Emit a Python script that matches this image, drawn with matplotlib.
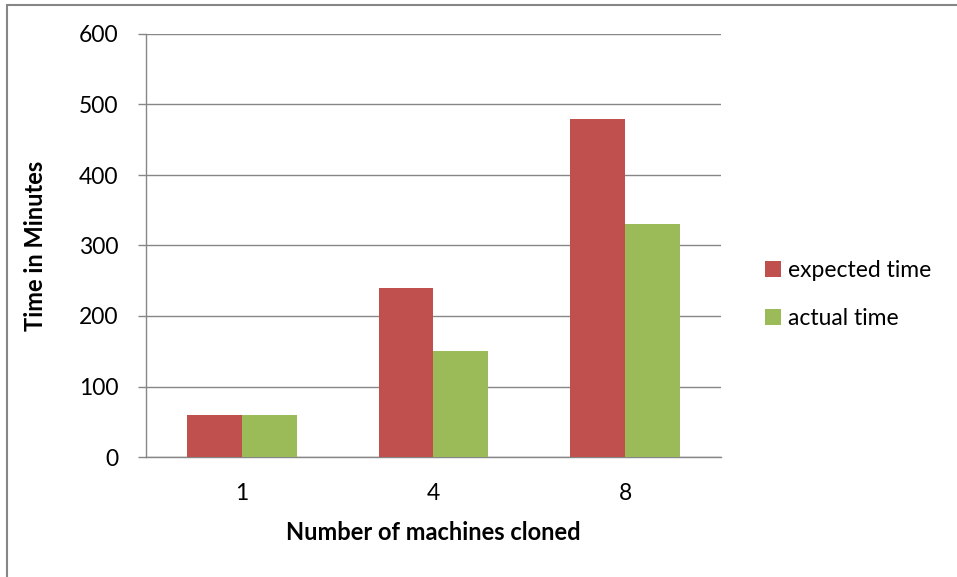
import matplotlib
matplotlib.use("Agg")
import matplotlib.pyplot as plt
import numpy as np
from matplotlib.patches import Rectangle

categories = ["1", "4", "8"]
expected_time = [60, 240, 480]
actual_time = [60, 150, 330]
yticks = [0, 100, 200, 300, 400, 500, 600]

plt.rcParams['font.family'] = ['Lato', 'DejaVu Sans']

W, H = 957, 577
fig = plt.figure(figsize=(W/100, H/100), dpi=100)
L, R, T, B = 146, 721, 34, 457
ax = fig.add_axes([L/W, 1 - B/H, (R-L)/W, (B-T)/H])

grey = '#868686'
x = np.arange(len(categories))
bw = 0.2857
ax.bar(x - bw/2, expected_time, bw, color='#C0504D', label='expected time', zorder=3)
ax.bar(x + bw/2, actual_time, bw, color='#9BBB59', label='actual time', zorder=3)

ax.set_xlim(-0.5, 2.5)
ax.set_ylim(0, 600)
ax.set_yticks(yticks)
ax.set_yticklabels([str(v) for v in yticks], fontsize=16.5)
ax.set_xticks(x)
ax.set_xticklabels(categories, fontsize=16.5)
ax.tick_params(axis='x', length=0, pad=19)
ax.tick_params(axis='y', length=6, width=1.0, color=grey, pad=14)
ax.yaxis.grid(True, color=grey, linewidth=1.0, zorder=0)
for s in ['top', 'right']:
    ax.spines[s].set_visible(False)
for s in ['left', 'bottom']:
    ax.spines[s].set_color(grey)
    ax.spines[s].set_linewidth(1.0)

ax.set_ylabel('Time in Minutes', fontsize=17, fontweight='bold', labelpad=23)
ax.set_xlabel('Number of machines cloned', fontsize=17, fontweight='bold', labelpad=12)

leg = fig.legend(loc='upper left', bbox_to_anchor=(744/W, 1 - 239/H), frameon=False,
                 fontsize=16.5, handlelength=0.7, handleheight=0.7, handletextpad=0.3,
                 labelspacing=1.18)

fig.patches.append(Rectangle((6.5/W, -0.1), 1.2, 1 - 4.5/H + 0.1, transform=fig.transFigure,
                             fill=False, edgecolor=grey, linewidth=1.5))

fig.savefig('out.png', dpi=100)
